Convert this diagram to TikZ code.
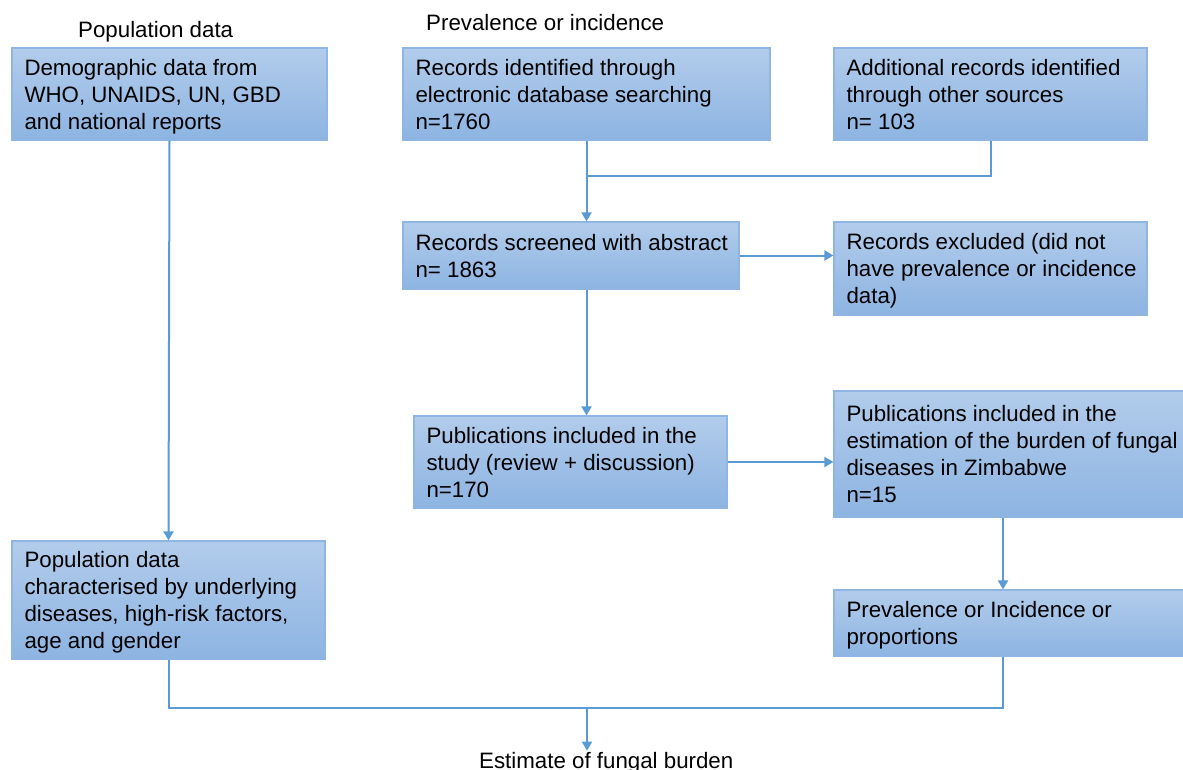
\documentclass[tikz,border=0pt]{standalone}
\usepackage{fontspec}
\setmainfont{Liberation Sans}
\usetikzlibrary{arrows.meta,shadings}
\definecolor{boxtop}{HTML}{B2CCEB}
\definecolor{boxbot}{HTML}{8DB4E2}
\definecolor{boxline}{HTML}{8FB6E3}
\definecolor{wire}{HTML}{5B9BD5}
% left-aligned block of lines in a fixed width, set a little low in its box
\newcommand\boxlines[2]{\raisebox{-3pt}[\height][\depth]{\makebox[#1][l]{\begin{tabular}{@{}l@{}}#2\end{tabular}}}}
\begin{document}
\begin{tikzpicture}[x=1pt,y=-1pt,
  txt/.style={font=\fontsize{22.3}{27}\selectfont, text=black},
  flowbox/.style={txt, rectangle, draw=boxline, line width=1.2pt,
    top color=boxtop, bottom color=boxbot, inner xsep=12.5pt, inner ysep=0pt},
  conn/.style={draw=wire, line width=2pt},
  arr/.style={conn, -{Triangle[length=9pt,width=10pt]}}]
\useasboundingbox (0,0) rectangle (1183,769);
\clip (0,0) rectangle (1183,769);

% headings
\node[txt, anchor=base west, inner sep=0] (hpop) at (78,37) {Population data};
\node[txt, anchor=base west, inner sep=0] (hprev) at (426,30) {Prevalence or incidence};

% boxes
\node[flowbox, minimum height=92pt] (demo) at (169.5,94)
  {\boxlines{290pt}{Demographic data from\\WHO, UNAIDS, UN, GBD\\and national reports}};
\node[flowbox, minimum height=92pt] (ident) at (586.5,94)
  {\boxlines{342pt}{Records identified through\\electronic database searching\\n=1760}};
\node[flowbox, minimum height=92pt] (addl) at (990.5,94)
  {\boxlines{288pt}{Additional records identified\\through other sources\\n= 103}};
\node[flowbox, minimum height=67pt] (screen) at (571,255.5)
  {\boxlines{311pt}{Records screened with abstract\\n= 1863}};
\node[flowbox, minimum height=93pt] (excl) at (990.5,268.5)
  {\boxlines{288pt}{Records excluded (did not\\have prevalence or incidence\\data)}};
\node[flowbox, minimum height=92pt] (study) at (570.5,462)
  {\boxlines{288pt}{Publications included in the\\study (review + discussion)\\n=170}};
\node[flowbox, minimum height=126pt] (estim) at (1014.5,454)
  {\boxlines{336pt}{Publications included in the\\estimation of the burden of fungal\\diseases in Zimbabwe\\n=15}};
\node[flowbox, minimum height=66pt] (prev) at (1014.5,623)
  {\boxlines{336pt}{Prevalence or Incidence or\\proportions}};
\node[flowbox, minimum height=118pt] (pop) at (168.5,600)
  {\boxlines{288pt}{Population data\\characterised by underlying\\diseases, high-risk factors,\\age and gender}};

\node[txt, anchor=base west, inner sep=1pt] (est) at (478,768) {Estimate of fungal burden};

% junction points
\coordinate (jtop) at (586.5,176);
\coordinate (jcol) at (1003,0);
\coordinate (busR) at (1003,708);
\coordinate (busM) at (587,708);

% connectors
\draw[arr] (demo.south) -- (pop.north);
\draw[arr] (ident.south) -- (ident.south |- screen.north);
\draw[conn] (addl.south) |- (jtop);
\draw[arr] (screen.east) -- (screen.east -| excl.west);
\draw[arr] (ident.south |- screen.south) -- (ident.south |- study.north);
\draw[arr] (study.east) -- (study.east -| estim.west);
\draw[arr] (jcol |- estim.south) -- (jcol |- prev.north);
\draw[conn] (pop.south) |- (busR) -- (busR |- prev.south);
\draw[arr] (busM) -- (busM |- est.north);
\end{tikzpicture}
\end{document}
